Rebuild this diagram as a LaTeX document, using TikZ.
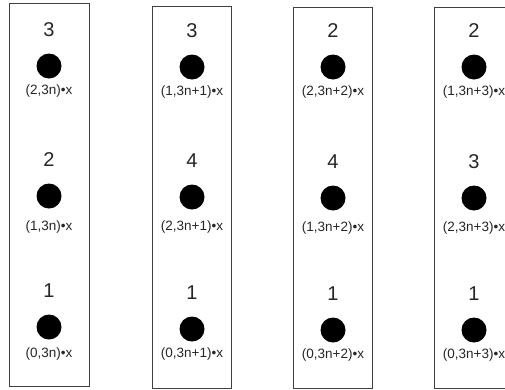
\documentclass[tikz,border=0pt]{standalone}
\usepackage{fontspec}
\setmainfont{Liberation Sans}
\usetikzlibrary{positioning}

\begin{document}
\begin{tikzpicture}[x=1pt, y=-1pt, node distance=36pt, on grid,
        dot/.style={circle, fill=black, minimum size=25pt, inner sep=0pt},
        num/.style={font=\fontsize{20}{20}\selectfont, text=black!85},
        coeff/.style={font=\fontsize{13.5}{14}\selectfont, text=black!85, inner sep=0pt},
        strip/.style={draw=black!75, line width=0.8pt}]
        \useasboundingbox (0,0) rectangle (505,389);
        \clip (0,0) rectangle (505,389);

        % the four strips
        \draw[strip] (9,3) rectangle (89,386);
        \draw[strip] (152,6) rectangle (231,388);
        \draw[strip] (293,7) rectangle (372,388);
        \draw[strip] (434,7) rectangle (513,388);

        % strip 3n
        \node[dot] (a1) at (49,66) {};
        \node[dot] (a2) at (49,196) {};
        \node[dot] (a3) at (49,327) {};
        \node[num, above=of a1] (na1) {3};
        \node[num, above=of a2] (na2) {2};
        \node[num, above=of a3] (na3) {1};
        \node[coeff, below=25pt of a1] (la1) {(2,3n)•x};
        \node[coeff, below=31pt of a2] (la2) {(1,3n)•x};
        \node[coeff, below=27pt of a3] (la3) {(0,3n)•x};

        % strip 3n+1
        \node[dot] (b1) at (192,67) {};
        \node[dot] (b2) at (192,197) {};
        \node[dot] (b3) at (192,329) {};
        \node[num, above=of b1] (nb1) {3};
        \node[num, above=of b2] (nb2) {4};
        \node[num, above=of b3] (nb3) {1};
        \node[coeff, below=25pt of b1] (lb1) {(1,3n+1)•x};
        \node[coeff, below=30pt of b2] (lb2) {(2,3n+1)•x};
        \node[coeff, below=25pt of b3] (lb3) {(0,3n+1)•x};

        % strip 3n+2
        \node[dot] (c1) at (333,67) {};
        \node[dot] (c2) at (333,198) {};
        \node[dot] (c3) at (333,330) {};
        \node[num, above=of c1] (nc1) {2};
        \node[num, above=of c2] (nc2) {4};
        \node[num, above=of c3] (nc3) {1};
        \node[coeff, below=25pt of c1] (lc1) {(2,3n+2)•x};
        \node[coeff, below=30pt of c2] (lc2) {(1,3n+2)•x};
        \node[coeff, below=25pt of c3] (lc3) {(0,3n+2)•x};

        % strip 3n+3
        \node[dot] (d1) at (474,67) {};
        \node[dot] (d2) at (474,198) {};
        \node[dot] (d3) at (474,330) {};
        \node[num, above=of d1] (nd1) {2};
        \node[num, above=of d2] (nd2) {3};
        \node[num, above=of d3] (nd3) {1};
        \node[coeff, below=25pt of d1] (ld1) {(1,3n+3)•x};
        \node[coeff, below=30pt of d2] (ld2) {(2,3n+3)•x};
        \node[coeff, below=25pt of d3] (ld3) {(0,3n+3)•x};
\end{tikzpicture}
\end{document}
